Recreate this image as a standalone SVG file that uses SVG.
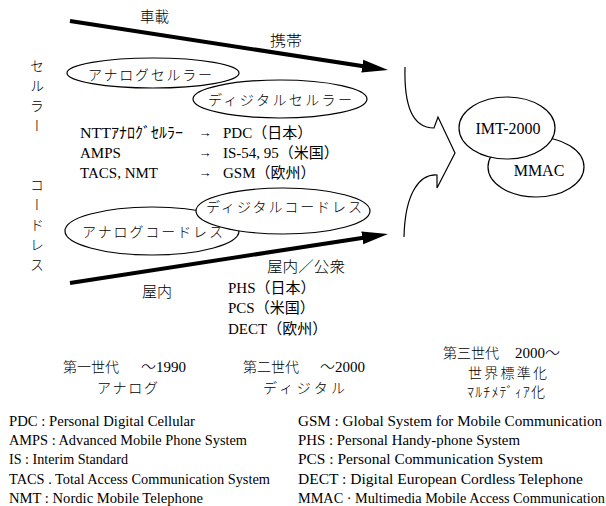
<svg xmlns="http://www.w3.org/2000/svg" width="606" height="506" viewBox="0 0 606 506">
<style>
.t{font-family:"Liberation Serif","Noto Sans CJK JP",serif;fill:#000}
.j{font-family:"Liberation Serif","Noto Sans CJK JP",serif;fill:#000;font-weight:300}
.s15{font-size:15px}
.s14{font-size:14px}
.s13{font-size:13px}
.ell{fill:#fff;stroke:#000;stroke-width:1.2}
.arr{stroke:#000;stroke-width:4;fill:none}
.v{font-family:"Noto Sans CJK JP",sans-serif;font-size:14px;font-weight:300;writing-mode:vertical-rl;letter-spacing:6px}
</style>
<defs>
<marker id="ah" markerUnits="userSpaceOnUse" markerWidth="30" markerHeight="20" viewBox="0 0 30 20" refX="16" refY="10" orient="auto">
<path d="M0,3.5 L26,10 L0,16.5 Z" fill="#000"/>
</marker>
</defs>
<rect width="606" height="506" fill="#fff"/>

<g id="connectors">
<line class="arr" x1="70" y1="21" x2="378.1" y2="68.5" marker-end="url(#ah)"/>
<line class="arr" x1="70" y1="283" x2="378.1" y2="235.5" marker-end="url(#ah)"/>
<path id="bracket" d="M405,67 C404,105 412,128 434,128 L438,117 L455,153 L437,188 L437,175 C420,174 405,192 404,237" fill="none" stroke="#000" stroke-width="1.2"/>
<text class="j s15" x="140" y="22" textLength="29" lengthAdjust="spacingAndGlyphs">車載</text>
<text class="j s15" x="270" y="46" textLength="32" lengthAdjust="spacingAndGlyphs">携帯</text>
<text class="j s15" x="267" y="272" textLength="78" lengthAdjust="spacingAndGlyphs">屋内／公衆</text>
<text class="j s15" x="142" y="297" textLength="30" lengthAdjust="spacingAndGlyphs">屋内</text>
</g>

<g id="label-cellular"><text class="v" x="37" y="59">セルラー</text></g>
<g id="label-cordless"><text class="v" x="37" y="178">コードレス</text></g>

<g id="analog-cellular">
<ellipse class="ell" cx="153" cy="73" rx="86" ry="15"/>
<text class="j s14" x="88" y="80" textLength="124" lengthAdjust="spacing">アナログセルラー</text>
</g>
<g id="digital-cellular">
<ellipse class="ell" cx="280" cy="99" rx="87" ry="19"/>
<text class="j s14" x="208" y="105" textLength="144" lengthAdjust="spacing">ディジタルセルラー</text>
</g>

<g id="cellular-systems">
<text class="t s15" x="80" y="138" textLength="103" lengthAdjust="spacingAndGlyphs">NTTｱﾅﾛｸﾞｾﾙﾗｰ</text>
<text class="t s15" x="80" y="158">AMPS</text>
<text class="t s15" x="80" y="178">TACS, NMT</text>
<text class="t s13" x="205" y="137" text-anchor="middle">→</text>
<text class="t s13" x="205" y="157" text-anchor="middle">→</text>
<text class="t s13" x="205" y="177" text-anchor="middle">→</text>
<text class="t s15" x="223" y="138">PDC（日本）</text>
<text class="t s15" x="223" y="158">IS-54, 95（米国）</text>
<text class="t s15" x="223" y="178">GSM（欧州）</text>
</g>

<g id="analog-cordless">
<ellipse class="ell" cx="152" cy="231" rx="87" ry="24"/>
<text class="j s14" x="82" y="237" textLength="141" lengthAdjust="spacing">アナログコードレス</text>
</g>
<g id="digital-cordless">
<ellipse class="ell" cx="283" cy="211" rx="87" ry="23"/>
<text class="j s14" x="206" y="212" textLength="156" lengthAdjust="spacing">ディジタルコードレス</text>
</g>

<g id="cordless-systems">
<text class="t s15" x="228" y="293">PHS（日本）</text>
<text class="t s15" x="228" y="313">PCS（米国）</text>
<text class="t s15" x="228" y="334">DECT（欧州）</text>
</g>

<g id="mmac">
<ellipse class="ell" cx="536" cy="167" rx="48" ry="30"/>
<text class="t" font-size="16" x="539" y="175.5" text-anchor="middle">MMAC</text>
</g>
<g id="imt2000">
<ellipse class="ell" cx="507" cy="128" rx="48" ry="31"/>
<text class="t" font-size="16" x="508" y="133.5" text-anchor="middle">IMT-2000</text>
</g>

<g id="gen1">
<text class="j s14" x="63" y="372">第一世代　<tspan dx="8" font-size="15">～1990</tspan></text>
<text class="j s14" x="97" y="393" textLength="61" lengthAdjust="spacing">アナログ</text>
</g>
<g id="gen2">
<text class="j s14" x="243" y="372">第二世代　<tspan dx="7" font-size="15">～2000</tspan></text>
<text class="j s14" x="263" y="393" textLength="82" lengthAdjust="spacing">ディジタル</text>
</g>
<g id="gen3">
<text class="j s14" x="443" y="358">第三世代　<tspan dx="2" font-size="15">2000～</tspan></text>
<text class="j s14" x="468" y="378" textLength="79" lengthAdjust="spacing">世界標準化</text>
<text class="j s14" x="467" y="397" textLength="78" lengthAdjust="spacing">ﾏﾙﾁﾒﾃﾞｨｱ化</text>
</g>

<g id="legend">
<text class="t s14" x="9" y="426" textLength="186" lengthAdjust="spacingAndGlyphs">PDC : Personal Digital Cellular</text>
<text class="t s14" x="9" y="445" textLength="238" lengthAdjust="spacingAndGlyphs">AMPS : Advanced Mobile Phone System</text>
<text class="t s14" x="9" y="464" textLength="119" lengthAdjust="spacingAndGlyphs">IS : Interim Standard</text>
<text class="t s14" x="9" y="484" textLength="261" lengthAdjust="spacingAndGlyphs">TACS . Total Access Communication System</text>
<text class="t s14" x="9" y="503" textLength="194" lengthAdjust="spacingAndGlyphs">NMT : Nordic Mobile Telephone</text>
<text class="t s14" x="298" y="426" textLength="304" lengthAdjust="spacingAndGlyphs">GSM : Global System for Mobile Communication</text>
<text class="t s14" x="298" y="445" textLength="222" lengthAdjust="spacingAndGlyphs">PHS : Personal Handy-phone System</text>
<text class="t s14" x="298" y="464" textLength="245" lengthAdjust="spacingAndGlyphs">PCS : Personal Communication System</text>
<text class="t s14" x="298" y="484" textLength="285" lengthAdjust="spacingAndGlyphs">DECT : Digital European Cordless Telephone</text>
<text class="t s14" x="298" y="503" textLength="307" lengthAdjust="spacingAndGlyphs">MMAC · Multimedia Mobile Access Communication</text>
</g>
</svg>
